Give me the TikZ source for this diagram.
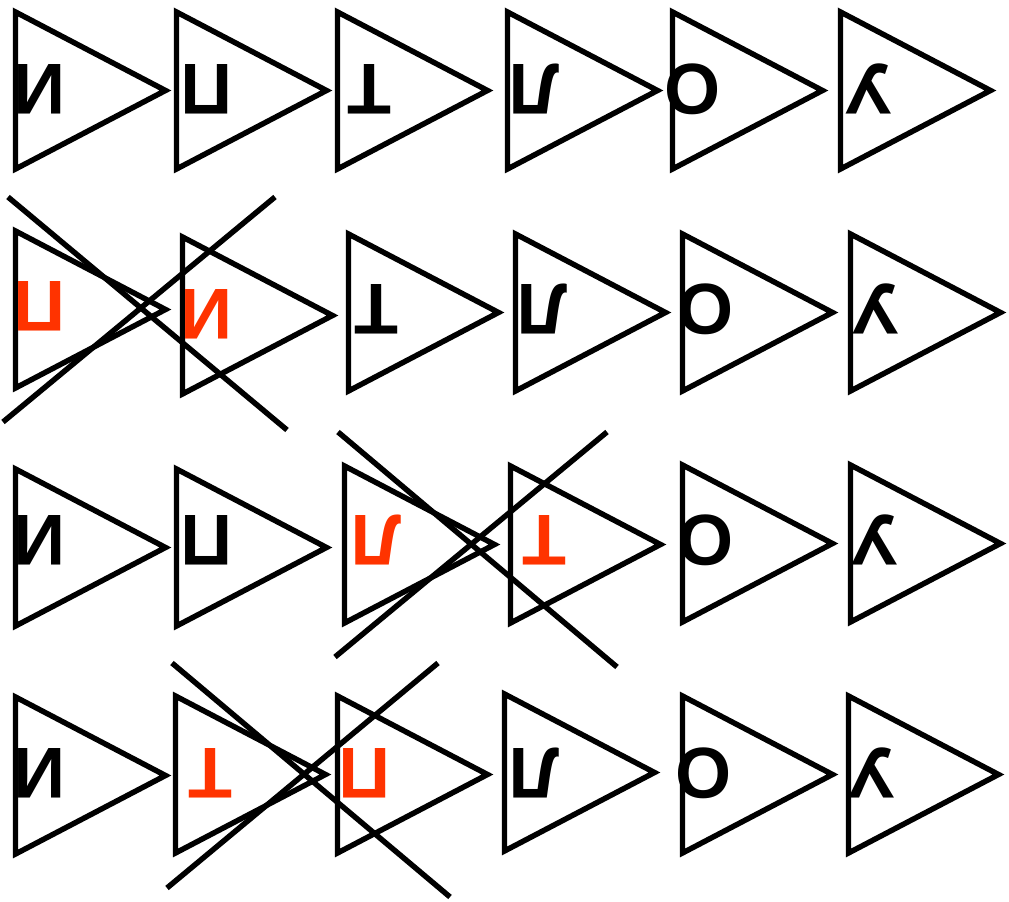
\documentclass[tikz,border=0pt]{standalone}
\usepackage{fontspec}
\setmainfont{Liberation Sans}
\definecolor{swapred}{HTML}{FF3300}

\begin{document}
\begin{tikzpicture}[x=0.02cm, y=-0.02cm,
  tri/.style={draw=black, line width=3.1pt},
  glyph/.style={font=\fontsize{41}{41}\selectfont\bfseries, rotate=180,
                inner sep=0pt, text=#1},
  glyph/.default=black,
  cross/.style={black, line width=3.1pt}]

\useasboundingbox (0,0) rectangle (1009,902);

% Triangles and letters
\foreach \n/\lx/\ty/\ch/\cx/\cy/\col in {
    r1c1/13/8/И/40/89/black, r1c2/174/8/П/206.5/89/black,
    r1c3/335/8/Т/369/89/black, r1c4/505/8/Л/534.5/89/black,
    r1c5/670/8/О/692/89/black, r1c6/838/8/У/869.5/89/black,
    r2c1/13/227/П/40/306/swapred, r2c2/180/233/И/206.5/314/swapred,
    r2c3/346/230/Т/376/309/black, r2c4/513/230/Л/542/309/black,
    r2c5/680/230/О/705/309/black, r2c6/848/230/У/876/309/black,
    r3c1/13/465/И/40/540/black, r3c2/174/465/П/206.5/540/black,
    r3c3/342/462/Л/376/540/swapred, r3c4/508/462/Т/544/540/swapred,
    r3c5/680/461/О/705/540/black, r3c6/848/461/У/875.5/540/black,
    r4c1/13/693/И/40/773/black, r4c2/173/692/Т/210.5/773/swapred,
    r4c3/335/692/П/365/773/swapred, r4c4/502/690/Л/534.5/773/black,
    r4c5/680/692/О/703.5/773/black, r4c6/846/692/У/872/773/black} {
  \draw[tri] (\lx+2.5,\ty+4) -- ++(150,78.5) coordinate (\n) -- ++(-150,78.5) -- cycle;
  \node[glyph=\col] (\n-ch) at (\cx,\cy) {\ch};
}

% Crossed-out swaps
\coordinate (s2a) at (8,197);   \coordinate (s2b) at (287,430);
\coordinate (s2c) at (3,422);   \coordinate (s2d) at (275,197);
\coordinate (s3a) at (338,432); \coordinate (s3b) at (617,667);
\coordinate (s3c) at (335,657); \coordinate (s3d) at (607,432);
\coordinate (s4a) at (172,663); \coordinate (s4b) at (450,897);
\coordinate (s4c) at (167,888); \coordinate (s4d) at (438,663);

\foreach \r in {2,3,4} {
  \draw[cross] (s\r a) -- (s\r b);
  \draw[cross] (s\r c) -- (s\r d);
}

\end{tikzpicture}
\end{document}
